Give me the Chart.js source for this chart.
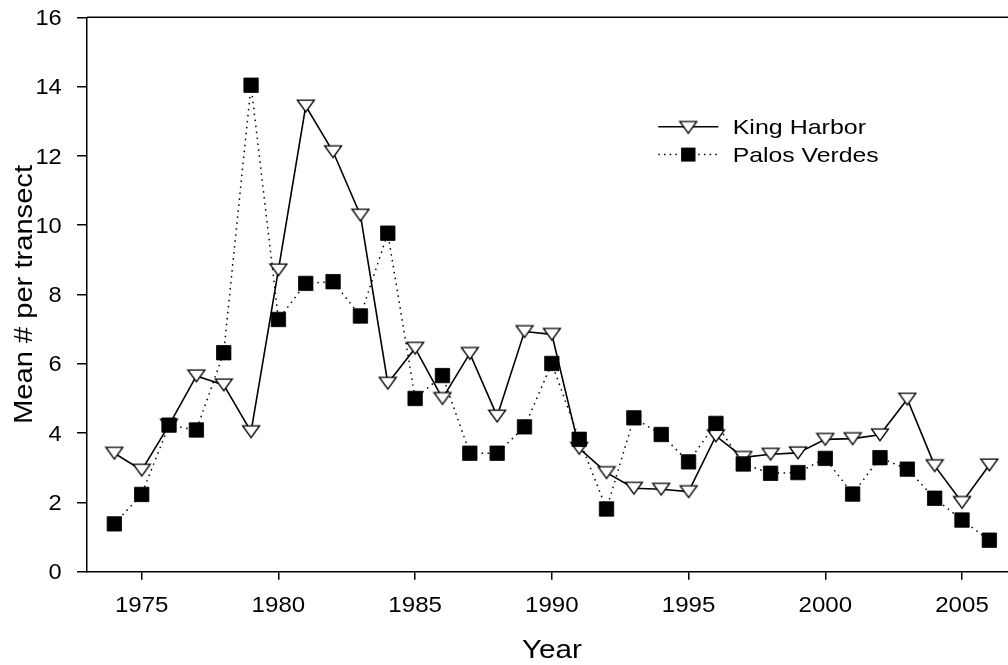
<!DOCTYPE html>
<html>
<head>
<meta charset="utf-8">
<script src="https://cdn.jsdelivr.net/npm/chart.js@4/dist/chart.umd.min.js"></script>
<style>
  html, body { margin: 0; padding: 0; background: #fff; overflow: hidden; }
  #wrap { position: absolute; left: 0; top: 0; width: 1040px; height: 665px; }
</style>
</head>
<body>
<div id="wrap"><canvas id="chart" width="1040" height="665"></canvas></div>
<script>
// Survey years and mean counts per transect at the two sites
const years = [1974, 1975, 1976, 1977, 1978, 1979, 1980, 1981, 1982, 1983, 1984,
               1985, 1986, 1987, 1988, 1989, 1990, 1991, 1992, 1993, 1994, 1995,
               1996, 1997, 1998, 1999, 2000, 2001, 2002, 2003, 2004, 2005, 2006];
const kingHarbor = [3.42, 2.93, 4.23, 5.65, 5.39, 4.04, 8.71, 13.44, 12.12, 10.29, 5.44,
                    6.45, 5.00, 6.30, 4.49, 6.93, 6.85, 3.56, 2.86, 2.41, 2.38, 2.31,
                    3.92, 3.30, 3.39, 3.43, 3.82, 3.84, 3.95, 4.98, 3.06, 2.00, 3.08];
const palosVerdes = [1.38, 2.23, 4.23, 4.09, 6.32, 14.04, 7.28, 8.32, 8.37, 7.38, 9.77,
                     5.00, 5.66, 3.42, 3.42, 4.18, 6.01, 3.82, 1.81, 4.44, 3.96, 3.17,
                     4.28, 3.11, 2.84, 2.86, 3.27, 2.24, 3.29, 2.96, 2.12, 1.49, 0.91];
const seriesNames = ['King Harbor', 'Palos Verdes'];
const xTickValues = [1975, 1980, 1985, 1990, 1995, 2000, 2005];
const yTickValues = [0, 2, 4, 6, 8, 10, 12, 14, 16];
const xTitle = 'Year';
const yTitle = 'Mean # per transect';

const FAMILY = '"Liberation Sans", Arial, Helvetica, sans-serif';

// Open downward-pointing triangle used as the King Harbor marker
function makeTriangle() {
  const c = document.createElement('canvas');
  c.width = 20; c.height = 16;
  const g = c.getContext('2d');
  g.beginPath();
  g.moveTo(1.6, 2.1);
  g.lineTo(18.4, 2.1);
  g.lineTo(10, 13.9);
  g.closePath();
  g.fillStyle = '#fff';
  g.fill();
  g.lineWidth = 1.4;
  g.strokeStyle = '#000';
  g.lineJoin = 'miter';
  g.stroke();
  return c;
}
const triangleMarker = makeTriangle();

// Text slightly widened horizontally, as in the printed figure
function wideText(ctx, text, x, y, size, align, sx, rotate) {
  ctx.save();
  ctx.translate(x, y);
  if (rotate) ctx.rotate(-Math.PI / 2);
  ctx.scale(sx, 1);
  ctx.font = size + 'px ' + FAMILY;
  ctx.fillStyle = '#000';
  ctx.textAlign = align;
  ctx.textBaseline = 'alphabetic';
  ctx.fillText(text, 0, 0);
  ctx.restore();
}

const decorations = {
  id: 'decorations',
  afterDraw(chart) {
    const ctx = chart.ctx;
    const area = chart.chartArea;
    const xs = chart.scales.x, ys = chart.scales.y;

    // top frame line
    ctx.save();
    ctx.strokeStyle = '#000';
    ctx.lineWidth = 1.5;
    ctx.beginPath();
    ctx.moveTo(area.left, area.top);
    ctx.lineTo(chart.width, area.top);
    ctx.stroke();
    ctx.restore();

    // tick labels
    const tickSize = 21.5;
    ys.ticks.forEach(t => {
      const py = ys.getPixelForValue(t.value);
      wideText(ctx, String(t.value), area.left - 25.3, py + 0.358 * tickSize, tickSize, 'right', 1.1);
    });
    xs.ticks.forEach(t => {
      const px = xs.getPixelForValue(t.value);
      wideText(ctx, String(t.value), px, area.bottom + 40, tickSize, 'center', 1.12);
    });

    // axis titles
    wideText(ctx, xTitle, (area.left + area.right) / 2, area.bottom + 86.6, 26, 'center', 1.14);
    wideText(ctx, yTitle, 32.3, (area.top + area.bottom) / 2, 26, 'center', 1.12, true);

    // legend
    const lx0 = 658.3, lx1 = 718.3, mx = 688.3, tx = 732.7;
    const ky = 126.8, py = 154.6;
    ctx.save();
    ctx.strokeStyle = '#000';
    ctx.lineWidth = 1.6;
    ctx.beginPath();
    ctx.moveTo(lx0, ky); ctx.lineTo(lx1, ky);
    ctx.stroke();
    ctx.drawImage(triangleMarker, mx - 10, ky + 0.6 - 8);
    ctx.setLineDash([1.5, 4.2]);
    ctx.lineWidth = 1.5;
    ctx.beginPath();
    ctx.moveTo(lx0, py); ctx.lineTo(lx1, py);
    ctx.stroke();
    ctx.setLineDash([]);
    ctx.fillStyle = '#000';
    ctx.fillRect(mx - 7.2, py - 7, 14.4, 14);
    ctx.restore();
    wideText(ctx, seriesNames[0], tx, 134.3, 21, 'left', 1.19);
    wideText(ctx, seriesNames[1], tx, 162.3, 21, 'left', 1.18);
  }
};

new Chart(document.getElementById('chart'), {
  type: 'line',
  data: {
    datasets: [
      {
        label: seriesNames[0],
        data: years.map((y, i) => ({ x: y, y: kingHarbor[i] })),
        borderColor: '#000',
        borderWidth: 1.6,
        pointStyle: triangleMarker,
        pointRadius: 9,
        order: 2
      },
      {
        label: seriesNames[1],
        data: years.map((y, i) => ({ x: y, y: palosVerdes[i] })),
        borderColor: '#000',
        borderWidth: 1.5,
        borderDash: [1.5, 4.5],
        pointStyle: 'rect',
        pointRadius: 10.2,
        pointBackgroundColor: '#000',
        pointBorderColor: '#000',
        pointBorderWidth: 0.8,
        order: 1
      }
    ]
  },
  options: {
    responsive: false,
    animation: false,
    events: [],
    layout: { padding: { left: 0, right: 23.3, top: 17.3, bottom: 0 } },
    plugins: { legend: { display: false }, tooltip: { enabled: false } },
    elements: { line: { tension: 0, fill: false } },
    scales: {
      x: {
        type: 'linear',
        min: 1973,
        max: 2007,
        afterBuildTicks: s => { s.ticks = xTickValues.map(v => ({ value: v })); },
        afterFit: s => { s.height = 665 - 571.7; },
        ticks: { display: false },
        grid: { display: true, drawOnChartArea: false, drawTicks: true, tickLength: 8, color: '#000', lineWidth: 1.5 },
        border: { display: true, color: '#000', width: 1.5 }
      },
      y: {
        min: 0,
        max: 16,
        afterBuildTicks: s => { s.ticks = yTickValues.map(v => ({ value: v })); },
        afterFit: s => { s.width = 87; },
        ticks: { display: false },
        grid: { display: true, drawOnChartArea: false, drawTicks: true, tickLength: 10, color: '#000', lineWidth: 1.5 },
        border: { display: true, color: '#000', width: 1.5 }
      }
    }
  },
  plugins: [decorations]
});
</script>
</body>
</html>
